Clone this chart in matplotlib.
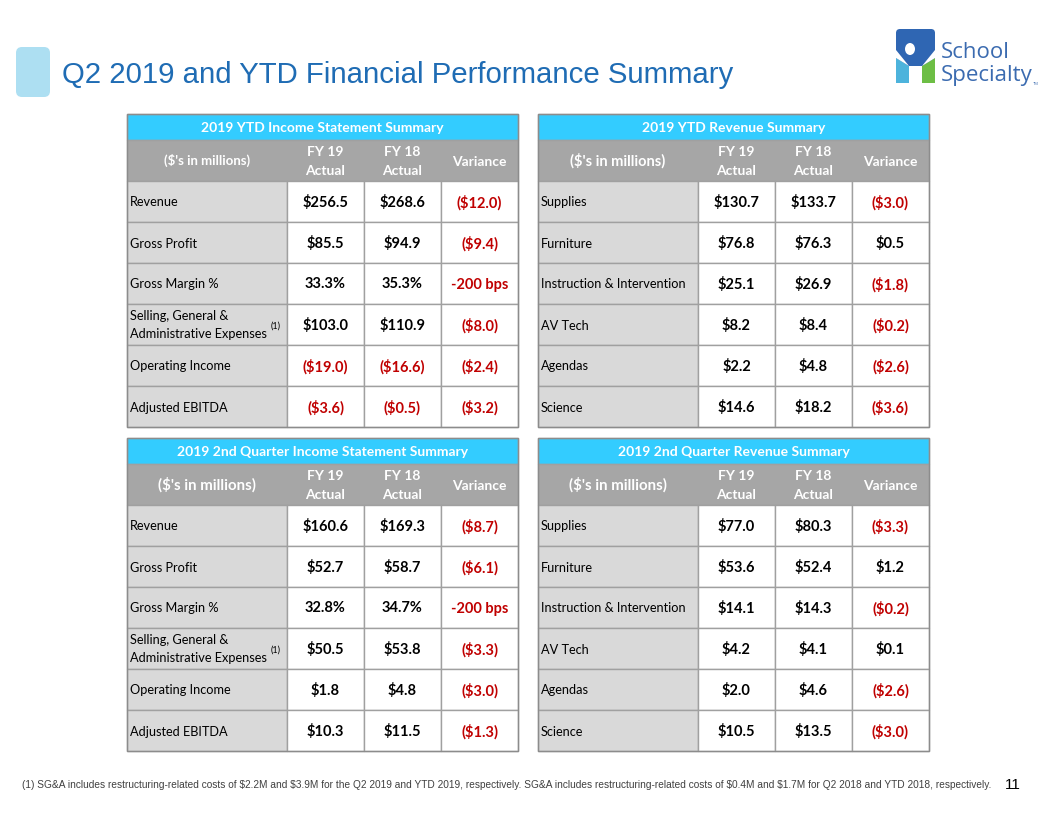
import matplotlib
matplotlib.use("Agg")
import matplotlib.pyplot as plt
from matplotlib.patches import Rectangle, FancyBboxPatch, Polygon, Ellipse

plt.rcParams["text.parse_math"] = False

# ---- data ----
is_labels = ["Revenue", "Gross Profit", "Gross Margin %",
             "Selling, General &\nAdministrative Expenses", "Operating Income",
             "Adjusted EBITDA"]
rev_labels = ["Supplies", "Furniture", "Instruction & Intervention", "AV Tech",
              "Agendas", "Science"]

ytd_is_fy19 = ["$256.5", "$85.5", "33.3%", "$103.0", "($19.0)", "($3.6)"]
ytd_is_fy18 = ["$268.6", "$94.9", "35.3%", "$110.9", "($16.6)", "($0.5)"]
ytd_is_var = ["($12.0)", "($9.4)", "-200 bps", "($8.0)", "($2.4)", "($3.2)"]

ytd_rev_fy19 = ["$130.7", "$76.8", "$25.1", "$8.2", "$2.2", "$14.6"]
ytd_rev_fy18 = ["$133.7", "$76.3", "$26.9", "$8.4", "$4.8", "$18.2"]
ytd_rev_var = ["($3.0)", "$0.5", "($1.8)", "($0.2)", "($2.6)", "($3.6)"]

q2_is_fy19 = ["$160.6", "$52.7", "32.8%", "$50.5", "$1.8", "$10.3"]
q2_is_fy18 = ["$169.3", "$58.7", "34.7%", "$53.8", "$4.8", "$11.5"]
q2_is_var = ["($8.7)", "($6.1)", "-200 bps", "($3.3)", "($3.0)", "($1.3)"]

q2_rev_fy19 = ["$77.0", "$53.6", "$14.1", "$4.2", "$2.0", "$10.5"]
q2_rev_fy18 = ["$80.3", "$52.4", "$14.3", "$4.1", "$4.6", "$13.5"]
q2_rev_var = ["($3.3)", "$1.2", "($0.2)", "$0.1", "($2.6)", "($3.0)"]

title = "Q2 2019 and YTD Financial Performance Summary"
footnote = ("(1) SG&A includes restructuring-related costs of $2.2M and $3.9M for the Q2 2019 "
            "and YTD 2019, respectively. SG&A includes restructuring-related costs of $0.4M "
            "and $1.7M for Q2 2018 and YTD 2018, respectively.")

CYAN = "#33CCFF"
GRAY = "#A6A6A6"
LIGHT = "#D9D9D9"
RED = "#C00000"
EDGE = "#A0A0A0"
FONT = "Lato"

fig = plt.figure(figsize=(10.56, 8.16), dpi=100)
ax = fig.add_axes([0, 0, 1, 1])
ax.set_xlim(0, 1056)
ax.set_ylim(816, 0)
ax.axis("off")

col_w = [160, 77, 77, 77]
title_h, head_h, row_h = 26, 41, 41


def cell(x, y, w, h, color):
    ax.add_patch(Rectangle((x, y), w, h, facecolor=color, edgecolor=EDGE, lw=1))


def draw_table(x0, y0, name, labels, fy19, fy18, var, unit_fs):
    total_w = sum(col_w)
    cell(x0, y0, total_w, title_h, CYAN)
    ax.text(x0 + total_w / 2, y0 + title_h / 2 + 1, name, ha="center", va="center",
            color="white", fontsize=10, fontweight="bold", family=FONT)
    y = y0 + title_h
    cell(x0, y, total_w, head_h, GRAY)
    xs = [x0]
    for w in col_w:
        xs.append(xs[-1] + w)
    ax.text(xs[0] + col_w[0] / 2, y + head_h / 2, "($'s in millions)", ha="center",
            va="center", color="white", fontsize=unit_fs, fontweight="bold", family=FONT)
    for i, h in enumerate(["FY 19\nActual", "FY 18\nActual", "Variance"]):
        ax.text(xs[i + 1] + col_w[i + 1] / 2, y + head_h / 2 + 1, h, ha="center",
                va="center", color="white", fontsize=10, fontweight="bold",
                family=FONT, linespacing=1.75)
    y += head_h
    for r, lab in enumerate(labels):
        cell(xs[0], y, col_w[0], row_h, LIGHT)
        ax.text(xs[0] + 3, y + row_h / 2 + 1, lab, ha="left", va="center",
                fontsize=9.2, family=FONT, color="black", linespacing=1.6)
        if "\n" in lab:
            ax.text(xs[0] + 144, y + row_h / 2 + 2, "(1)", ha="left", va="center",
                    fontsize=6.5, family=FONT, color="black")
        for c, vals in enumerate([fy19, fy18, var]):
            v = vals[r]
            cell(xs[c + 1], y, col_w[c + 1], row_h, "white")
            col = RED if v.startswith("(") or v.startswith("-") else "black"
            ax.text(xs[c + 1] + col_w[c + 1] / 2, y + row_h / 2 + 1, v, ha="center",
                    va="center", fontsize=10.5, fontweight="bold", family=FONT, color=col)
        y += row_h
    ax.add_patch(Rectangle((x0, y0), total_w, y - y0, facecolor="none",
                           edgecolor="#8C8C8C", lw=1))


draw_table(127, 114, "2019 YTD Income Statement Summary", is_labels,
           ytd_is_fy19, ytd_is_fy18, ytd_is_var, 9.5)
draw_table(538, 114, "2019 YTD Revenue Summary", rev_labels,
           ytd_rev_fy19, ytd_rev_fy18, ytd_rev_var, 10.5)
draw_table(127, 438, "2019 2nd Quarter Income Statement Summary", is_labels,
           q2_is_fy19, q2_is_fy18, q2_is_var, 10.8)
draw_table(538, 438, "2019 2nd Quarter Revenue Summary", rev_labels,
           q2_rev_fy19, q2_rev_fy18, q2_rev_var, 10.8)

# slide title
ax.add_patch(FancyBboxPatch((16, 47), 34, 50, boxstyle="round,pad=0,rounding_size=6",
                            facecolor="#ADDFF2", edgecolor="none"))
ax.text(62, 75, title, ha="left", va="center", fontsize=21.2,
        family="Liberation Sans", color="#1F6CB4")

# logo
ax.add_patch(FancyBboxPatch((896, 29), 39, 54, boxstyle="round,pad=0,rounding_size=4",
                            facecolor="#2F66B3", edgecolor="none"))
ax.add_patch(Polygon([(896, 83), (896, 58), (909, 66), (909, 83)],
                     facecolor="#4DB3DC", edgecolor="none"))
ax.add_patch(Polygon([(935, 83), (935, 58), (922, 66), (922, 83)],
                     facecolor="#6DBE45", edgecolor="none"))
ax.add_patch(Polygon([(896, 50), (909, 66), (909, 83), (922, 83), (922, 66), (935, 50),
                      (935, 58), (922, 66), (909, 66), (896, 58)],
                     facecolor="white", edgecolor="none"))
ax.add_patch(Ellipse((910, 49), 10, 12, facecolor="white", edgecolor="none"))
ax.text(941, 53, "School", ha="left", va="center", fontsize=16, family="Open Sans",
        color="#3B6BB0")
ax.text(941, 75, "Specialty", ha="left", va="center", fontsize=16, family="Open Sans",
        color="#3B6BB0")
ax.text(1033, 84, "TM", ha="left", va="center", fontsize=3, family="Open Sans",
        color="#3B6BB0")

# footnote and page number
ax.text(22, 785, footnote, ha="left", va="center", fontsize=7.3,
        family="Liberation Sans", color="#404040")
ax.text(1005, 785, "11", ha="left", va="center", fontsize=11,
        family="Liberation Sans", color="black")

fig.savefig("out.png", dpi=100)
